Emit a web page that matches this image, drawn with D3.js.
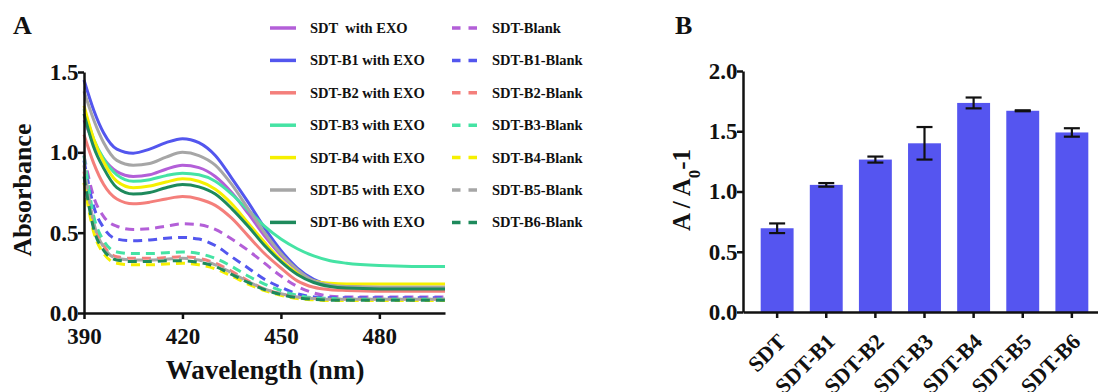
<!DOCTYPE html>
<html>
<head>
<meta charset="utf-8">
<script src="https://cdn.jsdelivr.net/npm/d3@7"></script>
<style>
  body { margin: 0; background: #fff; }
  svg text { font-family: "Liberation Serif", "Times New Roman", serif; font-weight: bold; fill: #111; }
  .axis path, .axis line { stroke: #111; stroke-width: 2.5px; }
</style>
</head>
<body>
<svg id="chart" width="1098" height="392"></svg>
<script>
// ---- data ----
const wavelengths = [390, 393, 396, 400, 405, 410, 415, 420, 425, 430, 435, 440, 445, 450, 455, 460, 465, 470, 480, 490, 500];

const seriesNames = ["SDT", "SDT-B1", "SDT-B2", "SDT-B3", "SDT-B4", "SDT-B5", "SDT-B6"];
const seriesColors = ["#b35fd8", "#5356ee", "#f47f7b", "#45e3a4", "#f6f000", "#a6a6a6", "#1e8a5c"];

// absorbance with EXO (solid)
const sdtExo = [1.20, 1.06, 0.96, 0.88, 0.85, 0.86, 0.895, 0.92, 0.905, 0.85, 0.75, 0.62, 0.48, 0.36, 0.27, 0.20, 0.175, 0.165, 0.16, 0.16, 0.16];
const b1Exo = [1.45, 1.26, 1.12, 1.02, 0.995, 1.02, 1.06, 1.085, 1.06, 0.98, 0.84, 0.69, 0.53, 0.39, 0.28, 0.21, 0.175, 0.163, 0.157, 0.155, 0.155];
const b2Exo = [1.11, 0.93, 0.80, 0.71, 0.68, 0.69, 0.71, 0.725, 0.71, 0.67, 0.59, 0.48, 0.37, 0.28, 0.20, 0.16, 0.145, 0.14, 0.135, 0.135, 0.135];
const b3Exo = [1.27, 1.08, 0.96, 0.86, 0.82, 0.83, 0.855, 0.87, 0.86, 0.82, 0.74, 0.64, 0.54, 0.46, 0.40, 0.355, 0.325, 0.31, 0.295, 0.29, 0.29];
const b4Exo = [1.29, 1.08, 0.94, 0.82, 0.78, 0.79, 0.815, 0.835, 0.82, 0.77, 0.68, 0.56, 0.44, 0.33, 0.25, 0.20, 0.185, 0.18, 0.18, 0.18, 0.18];
const b5Exo = [1.38, 1.20, 1.06, 0.95, 0.92, 0.93, 0.97, 1.00, 0.98, 0.92, 0.80, 0.65, 0.50, 0.37, 0.27, 0.20, 0.175, 0.165, 0.16, 0.16, 0.16];
const b6Exo = [1.24, 1.03, 0.90, 0.78, 0.74, 0.75, 0.78, 0.80, 0.785, 0.74, 0.65, 0.54, 0.42, 0.32, 0.24, 0.19, 0.165, 0.155, 0.15, 0.15, 0.15];

// blanks (dashed)
const sdtBlank = [0.98, 0.72, 0.60, 0.54, 0.52, 0.525, 0.54, 0.555, 0.55, 0.52, 0.46, 0.39, 0.31, 0.23, 0.165, 0.125, 0.105, 0.10, 0.10, 0.10, 0.10];
const b1Blank = [0.95, 0.66, 0.53, 0.46, 0.45, 0.455, 0.465, 0.47, 0.46, 0.42, 0.35, 0.28, 0.21, 0.16, 0.12, 0.10, 0.095, 0.095, 0.095, 0.095, 0.095];
const b2Blank = [0.88, 0.56, 0.42, 0.35, 0.34, 0.34, 0.345, 0.35, 0.34, 0.31, 0.26, 0.20, 0.15, 0.12, 0.10, 0.09, 0.085, 0.085, 0.085, 0.085, 0.085];
const b3Blank = [0.98, 0.60, 0.45, 0.38, 0.37, 0.37, 0.375, 0.38, 0.37, 0.34, 0.29, 0.23, 0.18, 0.14, 0.11, 0.095, 0.09, 0.085, 0.085, 0.085, 0.085];
const b4Blank = [0.81, 0.50, 0.37, 0.31, 0.30, 0.30, 0.305, 0.31, 0.30, 0.275, 0.23, 0.18, 0.14, 0.11, 0.09, 0.082, 0.078, 0.078, 0.078, 0.078, 0.078];
const b5Blank = [0.92, 0.56, 0.41, 0.34, 0.33, 0.33, 0.335, 0.34, 0.33, 0.30, 0.25, 0.195, 0.15, 0.12, 0.10, 0.09, 0.085, 0.085, 0.085, 0.085, 0.085];
const b6Blank = [0.85, 0.52, 0.39, 0.33, 0.32, 0.32, 0.325, 0.325, 0.315, 0.29, 0.24, 0.19, 0.145, 0.115, 0.095, 0.085, 0.08, 0.08, 0.08, 0.08, 0.08];

const exoSeries = [sdtExo, b1Exo, b2Exo, b3Exo, b4Exo, b5Exo, b6Exo];
const blankSeries = [sdtBlank, b1Blank, b2Blank, b3Blank, b4Blank, b5Blank, b6Blank];

const xTicksA = [390, 420, 450, 480];
const yTicksA = [0, 0.5, 1.0, 1.5];

// panel B
const barValues = [0.695, 1.055, 1.265, 1.40, 1.735, 1.67, 1.49];
const barErrors = [0.04, 0.015, 0.025, 0.135, 0.045, 0.004, 0.035];
const yTicksB = [0, 0.5, 1.0, 1.5, 2.0];
const barColor = "#5555f0";

const svg = d3.select('#chart');

// ================= Panel A =================
const xA = d3.scaleLinear().domain([390, 500]).range([84, 445]);
const yA = d3.scaleLinear().domain([0, 1.5]).range([313, 72]);

svg.append('text')
    .attr('x', 13).attr('y', 34)
    .style('font-size', '26px')
    .text('A');

let line = d3.line()
    .x((d, i) => xA(wavelengths[i]))
    .y(d => yA(d))
    .curve(d3.curveMonotoneX);

let plotA = svg.append('g');

plotA.selectAll('.blank')
    .data(blankSeries)
    .enter()
    .append('path')
    .attr('d', d => line(d))
    .attr('fill', 'none')
    .attr('stroke', (d, i) => seriesColors[i])
    .attr('stroke-width', 3)
    .attr('stroke-dasharray', '9,6');

plotA.selectAll('.exo')
    .data(exoSeries)
    .enter()
    .append('path')
    .attr('d', d => line(d))
    .attr('fill', 'none')
    .attr('stroke', (d, i) => seriesColors[i])
    .attr('stroke-width', 3);

//x-axis
svg.append('g')
    .attr('class', 'axis')
    .attr('transform', 'translate(0,' + 313 + ')')
    .call(d3.axisBottom(xA).tickValues(xTicksA).tickSize(6).tickSizeOuter(0))
    .selectAll('text')
    .style('font-size', '23px')
    .attr('dy', '0.95em');

//y-axis
svg.append('g')
    .attr('class', 'axis')
    .attr('transform', 'translate(' + 84 + ',0)')
    .call(d3.axisLeft(yA).tickValues(yTicksA).tickFormat(d3.format('.1f')).tickSize(6).tickSizeOuter(0))
    .selectAll('text')
    .style('font-size', '23px')
    .attr('dx', '0.15em');

//axis titles
svg.append('text')
    .attr('x', 265).attr('y', 379)
    .style('text-anchor', 'middle')
    .style('font-size', '27px')
    .text('Wavelength (nm)');

svg.append('text')
    .attr('transform', 'rotate(-90)')
    .attr('x', -190).attr('y', 31)
    .style('text-anchor', 'middle')
    .style('font-size', '26px')
    .text('Absorbance');

//legend
let legend = svg.append('g');
seriesNames.forEach((name, i) => {
    let ly = 28 + i * 32.4;
    legend.append('line')
        .attr('x1', 270).attr('x2', 296)
        .attr('y1', ly).attr('y2', ly)
        .attr('stroke', seriesColors[i])
        .attr('stroke-width', 3.5);
    legend.append('text')
        .attr('x', 310).attr('y', ly + 5)
        .style('font-size', '14.5px')
        .style('white-space', 'pre')
        .text(name === 'SDT' ? 'SDT  with EXO' : name + ' with EXO');
    legend.append('line')
        .attr('x1', 452).attr('x2', 478)
        .attr('y1', ly).attr('y2', ly)
        .attr('stroke', seriesColors[i])
        .attr('stroke-width', 3.5)
        .attr('stroke-dasharray', '8.5,8');
    legend.append('text')
        .attr('x', 492).attr('y', ly + 5)
        .style('font-size', '14.5px')
        .text(name + '-Blank');
});

// ================= Panel B =================
const xB = d3.scaleBand().domain(seriesNames).range([743, 1106]).paddingInner(0.33).paddingOuter(0.36);
const yB = d3.scaleLinear().domain([0, 2.0]).range([312, 71]);

svg.append('text')
    .attr('x', 675).attr('y', 34)
    .style('font-size', '26px')
    .text('B');

svg.selectAll('.bar')
    .data(barValues)
    .enter()
    .append('rect')
    .attr('x', (d, i) => xB(seriesNames[i]))
    .attr('y', d => yB(d))
    .attr('width', xB.bandwidth())
    .attr('height', d => yB(0) - yB(d))
    .attr('fill', barColor);

//error bars
let err = svg.append('g')
    .attr('stroke', '#111')
    .attr('stroke-width', 2.2);
barValues.forEach((v, i) => {
    let cx = xB(seriesNames[i]) + xB.bandwidth() / 2;
    let hi = yB(v + barErrors[i]);
    let lo = yB(v - barErrors[i]);
    err.append('line').attr('x1', cx).attr('x2', cx).attr('y1', hi).attr('y2', lo);
    err.append('line').attr('x1', cx - 8).attr('x2', cx + 8).attr('y1', hi).attr('y2', hi);
    err.append('line').attr('x1', cx - 8).attr('x2', cx + 8).attr('y1', lo).attr('y2', lo);
});

svg.append('g')
    .attr('class', 'axis')
    .attr('transform', 'translate(0,' + 312 + ')')
    .call(d3.axisBottom(xB).tickSize(6).tickSizeOuter(0))
    .selectAll('text')
    .style('font-size', '22px')
    .style('text-anchor', 'end')
    .attr('x', 0)
    .attr('y', 0)
    .attr('dy', 0)
    .attr('transform', 'translate(10,31) rotate(-45)');

svg.append('g')
    .attr('class', 'axis')
    .attr('transform', 'translate(' + 743 + ',0)')
    .call(d3.axisLeft(yB).tickValues(yTicksB).tickFormat(d3.format('.1f')).tickSize(6).tickSizeOuter(0))
    .selectAll('text')
    .style('font-size', '23px')
    .attr('dx', '0.15em');

let yTitleB = svg.append('text')
    .attr('transform', 'rotate(-90)')
    .attr('x', -190).attr('y', 690)
    .style('text-anchor', 'middle')
    .style('font-size', '25px');
yTitleB.append('tspan').text('A / A');
yTitleB.append('tspan').attr('baseline-shift', 'sub').style('font-size', '17px').text('0');
yTitleB.append('tspan').text('-1');
</script>
</body>
</html>
